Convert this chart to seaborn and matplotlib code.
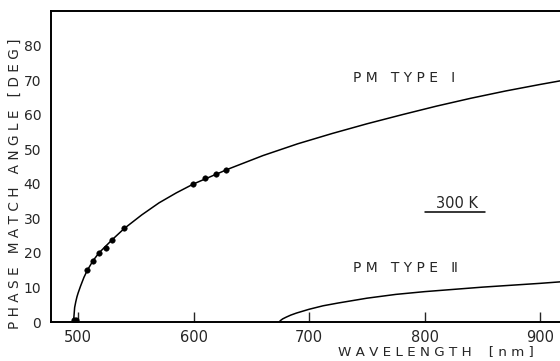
import matplotlib
matplotlib.use("Agg")
import matplotlib.pyplot as plt
import seaborn as sns
import pandas as pd

# PM type I curve (wavelength nm, angle deg)
type1_wl = [496, 497, 498, 499, 500, 502, 505, 508, 513, 518, 524, 530, 540, 555, 570, 585, 600,
            630, 660, 690, 720, 750, 780, 810, 840, 870, 900, 920]
type1_deg = [0, 4.2, 5.9, 7.3, 8.4, 10.3, 12.9, 15.0, 17.8, 20.0, 22.0, 24.0, 27.1, 31.0, 34.5, 37.4, 40.0,
             44.3, 48.2, 51.6, 54.6, 57.4, 60.0, 62.5, 64.8, 66.9, 68.8, 70.0]

# PM type II curve
type2_wl = [674, 675, 677, 680, 684, 689, 695, 700, 712, 725, 750, 775, 800, 850, 900, 920]
type2_deg = [0, 0.4, 0.9, 1.4, 2.0, 2.6, 3.2, 3.7, 4.7, 5.5, 6.9, 8.0, 8.8, 10.1, 11.2, 11.7]

# measured points
meas_wl = [496.5, 498, 507.5, 513.3, 518.5, 524, 529.3, 539.4, 599.4, 609.6, 619, 628.4]
meas_deg = [0.5, 0.5, 15.1, 17.7, 20.1, 21.5, 23.8, 27.2, 40.1, 41.8, 42.9, 44.1]

x_ticks = [500, 600, 700, 800, 900]
y_ticks = [0, 10, 20, 30, 40, 50, 60, 70, 80]

sns.set_style("ticks")
plt.rcParams["font.family"] = ["DejaVu Sans"]

df1 = pd.DataFrame({"wl": type1_wl, "deg": type1_deg})
df2 = pd.DataFrame({"wl": type2_wl, "deg": type2_deg})
dfm = pd.DataFrame({"wl": meas_wl, "deg": meas_deg})

fig = plt.figure(figsize=(5.6, 3.61), dpi=100)
ax = fig.add_axes([0.091, 0.108, 0.909, 0.861])

sns.lineplot(data=df1, x="wl", y="deg", color="black", linewidth=1.1, ax=ax)
sns.lineplot(data=df2, x="wl", y="deg", color="black", linewidth=1.1, ax=ax)
sns.scatterplot(data=dfm, x="wl", y="deg", color="black", s=16, edgecolor="black", ax=ax, zorder=3)

ax.set_xlim(476.5, 917)
ax.set_ylim(0, 90)
ax.set_xticks(x_ticks)
ax.set_yticks(y_ticks)
ax.tick_params(axis="x", direction="in", length=7, width=1, pad=6, labelsize=10.5)
ax.tick_params(axis="y", length=0, pad=7, labelsize=10)

for side in ["left", "top", "bottom"]:
    ax.spines[side].set_linewidth(1.4)
    ax.spines[side].set_color("black")
ax.spines["right"].set_visible(False)

ax.set_xlabel("")
ax.set_ylabel("")
fig.text(0.027, 0.49, "P H A S E   M A T C H   A N G L E   [ D E G ]",
         rotation=90, ha="center", va="center", fontsize=9.8)
fig.text(0.778, 0.026, "W A V E L E N G T H    [ n m ]",
         ha="center", va="center", fontsize=9.7)

ax.text(738, 70.6, "P M   T Y P E   Ⅰ", fontsize=10, va="center", ha="left")
ax.text(738, 15.7, "P M   T Y P E   Ⅱ", fontsize=10, va="center", ha="left")
ax.text(828, 34.2, "300 K", fontsize=10.5, va="center", ha="center")
ax.plot([800, 852], [31.9, 31.9], color="black", linewidth=1.1)

fig.savefig("out.png", dpi=100)
